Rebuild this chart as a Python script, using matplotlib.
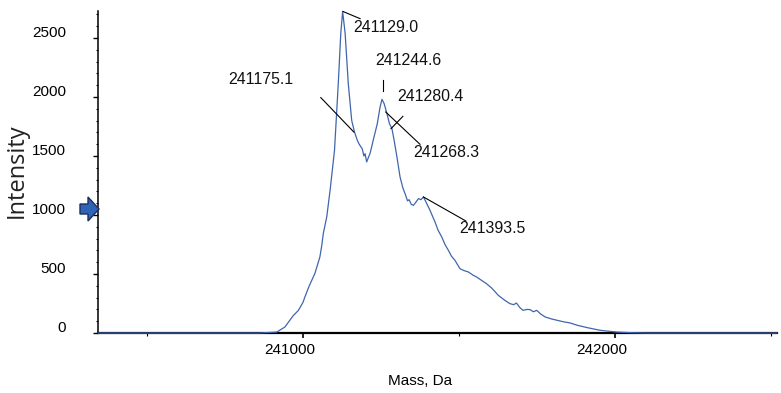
import matplotlib
matplotlib.use("Agg")
import matplotlib.pyplot as plt
from matplotlib.transforms import ScaledTranslation
from matplotlib.patches import Polygon
from matplotlib.ticker import MultipleLocator, FixedLocator

# ---- data ----
mass = [240343, 240862, 240916, 240942, 240969, 240985, 241000, 241006, 241020,
        241038, 241054, 241060, 241065, 241076, 241087, 241101, 241113, 241121,
        241127, 241135, 241145, 241156, 241165, 241174, 241180, 241190, 241195,
        241199, 241204, 241215, 241225, 241238, 241247, 241253, 241260, 241269,
        241277, 241285, 241292, 241301, 241311, 241320, 241327, 241335, 241340,
        241347, 241354, 241362, 241370, 241378, 241386, 241396, 241407, 241415,
        241423, 241433, 241445, 241455, 241466, 241476, 241487, 241495, 241503,
        241515, 241530, 241545, 241556, 241570, 241588, 241605, 241626, 241645,
        241663, 241675, 241684, 241695, 241705, 241718, 241728, 241738, 241749,
        241762, 241776, 241795, 241814, 241835, 241856, 241880, 241910, 241930,
        241952, 241980, 242006, 242048, 242100, 242519]
intensity = [0, 0, 8, 51, 148, 191, 260, 305, 400,
             504, 644, 740, 843, 983, 1214, 1550, 2114, 2537,
             2725, 2539, 2116, 1802, 1703, 1633, 1600, 1560, 1500,
             1520, 1450, 1523, 1633, 1774, 1915, 1980, 1944, 1859,
             1774, 1732, 1633, 1492, 1322, 1230, 1181, 1120, 1130,
             1090, 1082, 1110, 1139, 1130, 1153, 1100, 1040, 990,
             941, 870, 812, 750, 700, 650, 616, 580, 545,
             530, 517, 490, 475, 450, 418, 380, 319, 280,
             249, 240, 254, 215, 192, 200, 198, 180, 192,
             160, 136, 120, 108, 95, 85, 65, 46, 35,
             23, 15, 8, 3, 0, 0]

peak_labels = ["241129.0", "241175.1", "241244.6", "241280.4", "241268.3", "241393.5"]
x_ticks = [241000, 242000]
y_ticks = [0, 500, 1000, 1500, 2000, 2500]

FONT = ["Liberation Sans", "DejaVu Sans"]
LINE_COLOR = "#3f66ad"

fig = plt.figure(figsize=(7.81, 3.93), dpi=100)
W, H = 781, 393
ax = fig.add_axes([98 / W, 1 - 333 / H, (777 - 98) / W, (333 - 11) / H])

ax.plot(mass, intensity, color=LINE_COLOR, lw=0.9, clip_on=False, zorder=3)
ax.set_xlim(240343, 242519)
ax.set_ylim(0, 2729)

# annotations: (label, leader start, leader end, text pos, ha)
ann = [
    (peak_labels[0], (241128, 2725), (241183, 2664), (241160, 2590), "left"),
    (peak_labels[1], (241057, 1995), (241163, 1703), (240865, 2150), "center"),
    (peak_labels[2], (241255, 2142), (241255, 2051), (241338, 2311), "center"),
    (peak_labels[3], (241282, 1732), (241320, 1836), (241407, 2008), "center"),
    (peak_labels[4], (241265, 1873), (241375, 1599), (241458, 1531), "center"),
    (peak_labels[5], (241386, 1153), (241522, 949), (241606, 887), "center"),
]
for lab, p0, p1, tp, ha in ann:
    ax.plot([p0[0], p1[0]], [p0[1], p1[1]], color="black", lw=0.8, clip_on=False, zorder=4)
    ax.text(tp[0], tp[1], lab, ha=ha, va="center", fontsize=11.4, family=FONT, color="#111111")

# spines
for s in ["top", "right"]:
    ax.spines[s].set_visible(False)
ax.spines["bottom"].set_linewidth(1.6)
ax.spines["left"].set_linewidth(1.1)

ax.xaxis.set_major_locator(FixedLocator(x_ticks))
ax.xaxis.set_minor_locator(MultipleLocator(500))
ax.yaxis.set_major_locator(FixedLocator(y_ticks))
ax.yaxis.set_minor_locator(MultipleLocator(100))
ax.set_xticklabels([str(v) for v in x_ticks])
ax.set_yticklabels([str(v) for v in y_ticks])

ax.tick_params(axis="y", which="major", length=3.5, width=1.0, pad=19.5, labelsize=11)
ax.tick_params(axis="y", which="minor", length=1.5, width=0.8)
ax.tick_params(axis="x", which="major", length=3.5, width=1.2, pad=3.5, labelsize=11)
ax.tick_params(axis="x", which="minor", length=2, width=0.8)

for t in ax.get_yticklabels():
    t.set_family(FONT)
    t.set_transform(t.get_transform() + ScaledTranslation(0, 7 / 100, fig.dpi_scale_trans))
for t in ax.get_xticklabels():
    t.set_family(FONT)
    t.set_transform(t.get_transform() + ScaledTranslation(-13 / 100, 0, fig.dpi_scale_trans))

fig.text(420 / W, 1 - 381 / H, "Mass, Da", ha="center", va="center", fontsize=11, family=FONT)
fig.text(17 / W, 1 - 171 / H, "Intensity", ha="center", va="center", rotation=90,
         fontsize=17, family=["Open Sans", "DejaVu Sans"], color="#222222")

# blue arrow marker at the left of the y axis
pts = [(80, 204), (88, 204), (88, 197), (99, 209), (88, 221), (88, 214), (80, 214)]
arrow = Polygon([(x / W, 1 - y / H) for x, y in pts], closed=True,
                transform=fig.transFigure, facecolor="#2e63b5", edgecolor="#1b2f5e",
                lw=1.0, zorder=10)
fig.patches.append(arrow)

fig.savefig("out.png", dpi=100)
